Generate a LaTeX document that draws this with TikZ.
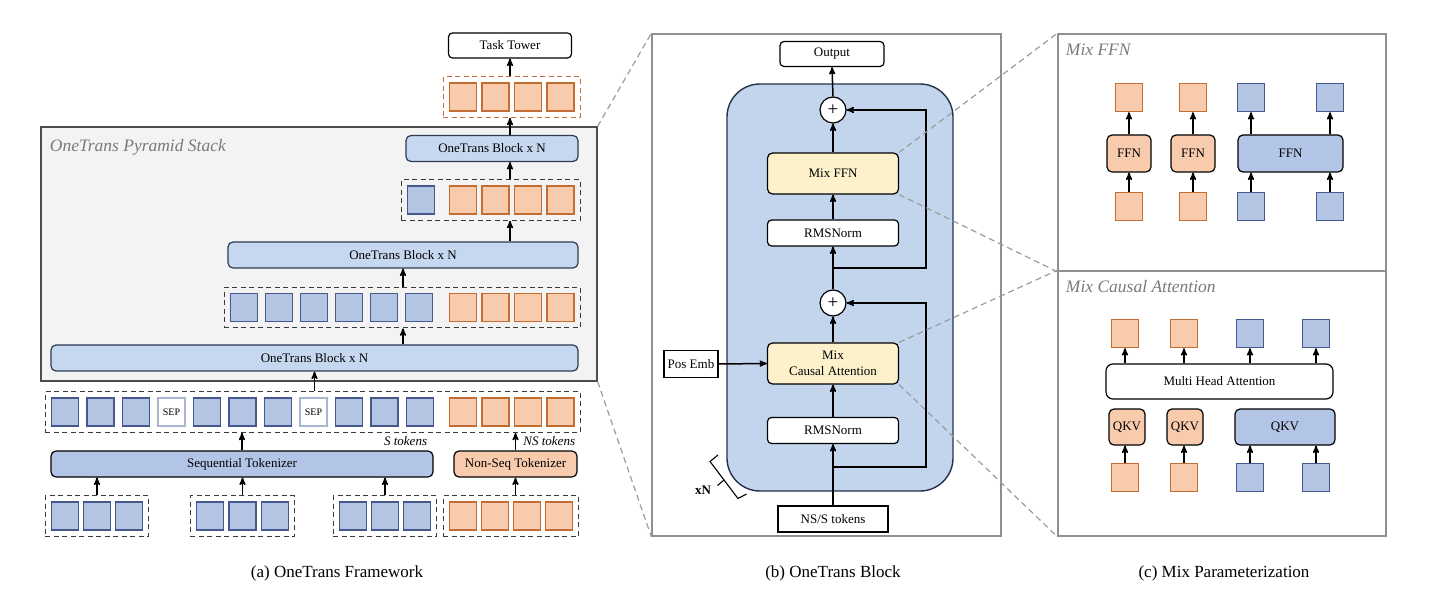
\documentclass[tikz,border=0pt]{standalone}
\usepackage{fontspec}
\setmainfont{Liberation Serif}
\usepackage{tikz}
\usetikzlibrary{positioning, calc, fit}
\usetikzlibrary{arrows}

\begin{document}
\begin{tikzpicture}[x=1pt, y=-1pt, >=stealth', line width=1.2pt,
    font=\fontsize{13}{16}\selectfont, align=center,
    bsq/.style={draw=sqblueline, fill=sqblue, line width=1.4pt, minimum width=27pt, minimum height=28pt, inner sep=0pt},
    osq/.style={bsq, draw=sqorangeline, fill=sqorange},
    sepsq/.style={bsq, draw=sepline, fill=white, font=\fontsize{10}{12}\selectfont},
    grp/.style={draw=grpline, dash pattern=on 5pt off 3.5pt, line width=1.3pt, inner sep=5.5pt},
    block/.style={draw=blockline, fill=blockfill, rounded corners=5pt, minimum height=26pt, inner sep=0pt},
    plainbox/.style={draw=black, fill=white, rounded corners=4pt, minimum height=26pt, inner sep=0pt},
    sharpbox/.style={draw=black, fill=white, minimum height=26pt, inner sep=0pt},
    mixbox/.style={draw=black, fill=mixyellow, rounded corners=5pt, minimum width=131pt, minimum height=41pt, inner sep=0pt},
    addnode/.style={circle, draw=black, fill=white, minimum size=26pt, inner sep=0pt, font=\fontsize{19}{19}\selectfont},
    panel/.style={draw=panelline, line width=1.4pt, inner sep=0pt},
    paneltitle/.style={font=\fontsize{17.5}{20}\selectfont\itshape, text=titlegray, anchor=west},
    toklabel/.style={font=\fontsize{13}{15}\selectfont\itshape, anchor=east},
    caption/.style={font=\fontsize{17}{20}\selectfont},
    zoomline/.style={draw=zoomgray, dash pattern=on 6pt off 4pt, line width=1.2pt},
    arr/.style={->, line width=1.5pt}]
        % Define colors
        \definecolor{sqblue}{HTML}{B4C5E4}
        \definecolor{sqblueline}{HTML}{46598F}
        \definecolor{sqorange}{HTML}{F8CBAD}
        \definecolor{sqorangeline}{HTML}{C46D33}
        \definecolor{sepline}{HTML}{AAB6D0}
        \definecolor{grpline}{HTML}{3A3A3A}
        \definecolor{blockfill}{HTML}{C6D8EF}
        \definecolor{blockline}{HTML}{2E3B52}
        \definecolor{tokblue}{HTML}{B3C5E6}
        \definecolor{mixyellow}{HTML}{FDF1CC}
        \definecolor{bigblue}{HTML}{C2D5ED}
        \definecolor{bigline}{HTML}{253349}
        \definecolor{stackfill}{HTML}{F3F3F3}
        \definecolor{stackline}{HTML}{4D4D4D}
        \definecolor{panelline}{HTML}{8F8F8F}
        \definecolor{titlegray}{HTML}{7A7A7A}
        \definecolor{zoomgray}{HTML}{9C9C9C}

        \useasboundingbox (0,0) rectangle (1440,601);

        % (a) framework
        \node[draw=stackline, fill=stackfill, line width=1.2pt, minimum width=556pt, minimum height=254pt, inner sep=0pt] (stack) at (319,254) {};
        \node[paneltitle] (stacktitle) at (46,147) {OneTrans Pyramid Stack};

        \node[plainbox, minimum width=123pt, minimum height=25pt] (tower) at (510,45.5) {Task Tower};

        \foreach \x [count=\i] in {463,495.5,528,560.5}
            \node[osq] (to\i) at (\x,97) {};
        \node[grp, draw=sqorangeline, fit=(to1)(to4)] (gtop) {};

        \node[block, minimum width=172pt] (b3) at (492,148.5) {OneTrans Block x N};

        \node[bsq] (m1) at (421,200) {};
        \foreach \x [count=\i] in {463,495.5,528,560.5}
            \node[osq] (mo\i) at (\x,200) {};
        \node[grp, fit=(m1)(mo4)] (g2) {};

        \node[block, minimum width=350pt] (b2) at (403,255) {OneTrans Block x N};

        \foreach \x [count=\i] in {244,279,314,349,384,419}
            \node[bsq] (l\i) at (\x,307.5) {};
        \foreach \x [count=\i] in {463,495.5,528,560.5}
            \node[osq] (lo\i) at (\x,307.5) {};
        \node[grp, fit=(l1)(lo4)] (g3) {};

        \node[block, minimum width=527pt] (b1) at (314.5,358) {OneTrans Block x N};

        % token row
        \foreach \x [count=\i] in {65,100.5,136,207,242.5,278,349,384.5,420}
            \node[bsq] (s\i) at (\x,412) {};
        \node[sepsq] (sep1) at (171.5,412) {SEP};
        \node[sepsq] (sep2) at (313.5,412) {SEP};
        \foreach \x [count=\i] in {463,495.5,528,560.5}
            \node[osq] (n\i) at (\x,412) {};
        \node[grp, fit=(s1)(n4)] (row) {};

        \node[toklabel] (stok) at (431,441) {S tokens};
        \node[toklabel] (nstok) at (579,441) {NS tokens};

        \node[block, draw=black, fill=tokblue, minimum width=382pt] (seq) at (242,464) {Sequential Tokenizer};
        \node[block, draw=black, fill=sqorange, minimum width=123pt] (nseq) at (515.5,464) {Non-Seq Tokenizer};

        \foreach \x [count=\i] in {65,97,129}
            \node[bsq] (a\i) at (\x,516) {};
        \node[grp, fit=(a1)(a3)] (ga) {};
        \foreach \x [count=\i] in {210,242.5,275}
            \node[bsq] (bb\i) at (\x,516) {};
        \node[grp, fit=(bb1)(bb3)] (gb) {};
        \foreach \x [count=\i] in {353,385,417}
            \node[bsq] (c\i) at (\x,516) {};
        \node[grp, fit=(c1)(c3)] (gc) {};
        \foreach \x [count=\i] in {463,495,527,559}
            \node[osq] (d\i) at (\x,516) {};
        \node[grp, fit=(d1)(d4)] (gd) {};

        \draw[arr] (ga.north) -- (ga.north |- seq.south);
        \draw[arr] (gb.north) -- (gb.north |- seq.south);
        \draw[arr] (gc.north) -- (gc.north |- seq.south);
        \draw[arr] (nseq.south |- gd.north) -- (nseq.south);
        \draw[arr] (seq.north) -- (seq.north |- row.south);
        \draw[arr] (nseq.north) -- (nseq.north |- row.south);
        \draw[arr] (row.north -| b1.south) -- (b1.south);
        \draw[arr] (b1.north -| b2.south) -- (b2.south |- g3.south);
        \draw[arr] (g3.north -| b2.south) -- (b2.south);
        \draw[arr] (b2.north -| tower.south) -- (tower.south |- g2.south);
        \draw[arr] (g2.north -| tower.south) -- (tower.south |- b3.south);
        \draw[arr] (b3.north -| tower.south) -- (tower.south |- gtop.south);
        \draw[arr] (gtop.north -| tower.south) -- (tower.south);

        \node[caption] (capa) at (337,573) {(a) OneTrans Framework};

        % (b) block
        \node[panel, minimum width=349pt, minimum height=502pt] (blkframe) at (826.5,285) {};
        \node[draw=bigline, fill=bigblue, line width=1.4pt, rounded corners=33pt, minimum width=226pt, minimum height=407pt] (blkbg) at (840,287.5) {};

        \node[plainbox, minimum width=104pt, minimum height=25pt] (out) at (832,54) {Output};
        \node[addnode] (plus1) at (833,110) {+};
        \node[mixbox] (mffn) at (833,173.5) {Mix FFN};
        \node[plainbox, minimum width=131pt] (rms1) at (833,233) {RMSNorm};
        \node[addnode] (plus2) at (833,303) {+};
        \node[mixbox] (mca) at (833,363.5) {Mix\\Causal Attention};
        \node[plainbox, minimum width=131pt] (rms2) at (833,430.5) {RMSNorm};
        \node[sharpbox, minimum width=110pt] (nss) at (833,519) {NS/S tokens};
        \node[sharpbox, minimum width=54pt, minimum height=27pt] (posemb) at (691,364) {Pos Emb};

        \coordinate (j1) at (833,268);
        \coordinate (r1) at (926,268);
        \coordinate (j2) at (833,467);
        \coordinate (r2) at (926,467);

        \draw[arr] (nss.north) -- (rms2.south);
        \draw[arr] (rms2.north) -- (mca.south);
        \draw[arr] (mca.north) -- (plus2.south);
        \draw[arr] (plus2.north) -- (rms1.south);
        \draw[arr] (rms1.north) -- (mffn.south);
        \draw[arr] (mffn.north) -- (plus1.south);
        \draw[arr] (plus1.north) -- (out.south);
        \draw[arr] (j1) -- (r1) |- (plus1.east);
        \draw[arr] (j2) -- (r2) |- (plus2.east);
        \draw[arr] (posemb.east) -- (mca.west);

        % repeat bracket
        \draw[line width=1.1pt] (718,455) -- (710,461.5) -- (738,498.5) -- (746.5,494);
        \draw[line width=1.1pt] (724,480) -- (717.5,485.5);
        \node[font=\fontsize{13}{15}\selectfont\bfseries] (xn) at (703,490) {xN};

        \node[caption] (capb) at (833,573) {(b) OneTrans Block};

        % (c) mix parameterization
        \node[panel, minimum width=328pt, minimum height=237pt] (ffnpanel) at (1222,152.5) {};
        \node[panel, minimum width=328pt, minimum height=265pt] (mcapanel) at (1222,403.5) {};
        \node[paneltitle] (ffntitle) at (1062,50) {Mix FFN};
        \node[paneltitle] (mcatitle) at (1062,287) {Mix Causal Attention};

        \node[block, draw=black, fill=sqorange, minimum width=44pt, minimum height=37pt] (ffn1) at (1129,153.5) {FFN};
        \node[block, draw=black, fill=sqorange, minimum width=44pt, minimum height=37pt] (ffn2) at (1193,153.5) {FFN};
        \node[block, draw=black, fill=tokblue, minimum width=105pt, minimum height=37pt] (ffn3) at (1290.5,153.5) {FFN};
        \foreach \x/\s [count=\i] in {1129/osq,1193/osq,1251/bsq,1330/bsq} {
            \node[\s] (fi\i) at (\x,206.5) {};
            \node[\s] (fo\i) at (\x,97.5) {};
        }
        \foreach \i/\f in {1/ffn1,2/ffn2,3/ffn3,4/ffn3} {
            \draw[arr] (fi\i.north) -- (fi\i.north |- \f.south);
            \draw[arr] (fo\i.south |- \f.north) -- (fo\i.south);
        }

        \node[plainbox, rounded corners=7pt, minimum width=227pt, minimum height=35pt] (mha) at (1219.5,381.5) {Multi Head Attention};
        \node[block, draw=black, fill=sqorange, minimum width=36pt, minimum height=36pt] (q1) at (1127,427) {QKV};
        \node[block, draw=black, fill=sqorange, minimum width=36pt, minimum height=36pt] (q2) at (1185,427) {QKV};
        \node[block, draw=black, fill=tokblue, minimum width=100pt, minimum height=36pt] (q3) at (1285,427) {QKV};
        \foreach \x/\s [count=\i] in {1125/osq,1184/osq,1250/bsq,1316/bsq} {
            \node[\s] (qi\i) at (\x,477.5) {};
            \node[\s] (qo\i) at (\x,333.5) {};
        }
        \foreach \i/\q in {1/q1,2/q2,3/q3,4/q3} {
            \draw[arr] (qi\i.north) -- (qi\i.north |- \q.south);
            \draw[arr] (qo\i.south |- mha.north) -- (qo\i.south);
        }

        \node[caption] (capc) at (1224,573) {(c) Mix Parameterization};

        % zoom lines
        \draw[zoomline] (stack.north east) -- (blkframe.north west);
        \draw[zoomline] (stack.south east) -- (blkframe.south west);
        \draw[zoomline] (mffn.north east) -- (ffnpanel.north west);
        \draw[zoomline] (mffn.south east) -- (ffnpanel.south west);
        \draw[zoomline] (mca.north east) -- (mcapanel.north west);
        \draw[zoomline] (mca.south east) -- (mcapanel.south west);
    \end{tikzpicture}
\end{document}
